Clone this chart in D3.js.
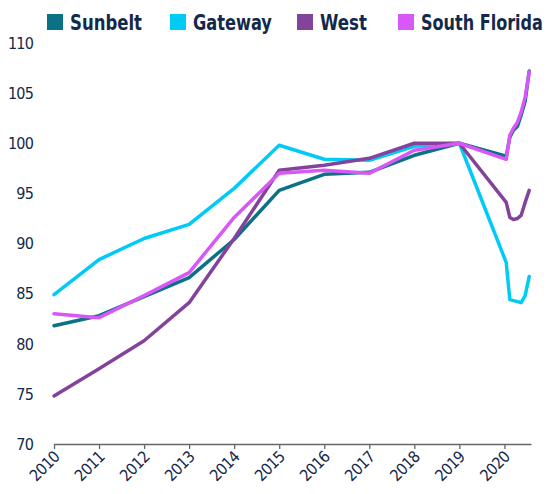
<!DOCTYPE html>
<html>
<head>
<meta charset="utf-8">
<script src="https://cdn.jsdelivr.net/npm/d3@7"></script>
<style>
  body { margin: 0; background: #fff; }
  text { font-family: "DejaVu Sans Condensed", "Liberation Sans Narrow", sans-serif; fill: #13294b; }
</style>
</head>
<body>
<script>
// annual points 2010-2019, then monthly-ish points in 2020
var years = [2010, 2011, 2012, 2013, 2014, 2015, 2016, 2017, 2018, 2019,
             2020.04, 2020.12, 2020.2, 2020.29, 2020.37, 2020.46, 2020.55];

var sunbelt      = [81.8, 82.8, 84.7, 86.6, 90.4, 95.3, 96.9, 97.1, 98.8, 100, 98.7, 100.6, 101.3, 101.7, 102.8, 104.2, 107.2];
var gateway      = [84.9, 88.4, 90.5, 91.9, 95.5, 99.8, 98.4, 98.3, 99.7, 100, 88.1, 84.4, 84.3, 84.2, 84.1, 84.8, 86.7];
var west         = [74.8, 77.5, 80.3, 84.1, 90.5, 97.3, 97.8, 98.5, 100, 100, 94.1, 92.6, 92.4, 92.5, 92.8, 94.1, 95.3];
var southFlorida = [83.0, 82.6, 84.8, 87.1, 92.6, 97.0, 97.3, 97.0, 99.3, 100, 98.4, 100.8, 101.5, 102.1, 103.1, 104.6, 107.1];

var seriesNames  = ['Sunbelt', 'Gateway', 'West', 'South Florida'];
var seriesValues = [sunbelt, gateway, west, southFlorida];
var colors       = ['#0b7285', '#00cbf5', '#84439a', '#d957f7'];

var xTicks = [2010, 2011, 2012, 2013, 2014, 2015, 2016, 2017, 2018, 2019, 2020];
var yTicks = [70, 75, 80, 85, 90, 95, 100, 105, 110];

var w = 551, h = 494;
var svg = d3.select('body').append('svg').attr('width', w).attr('height', h);

var x = d3.scaleLinear().domain([2010, 2020.59]).range([54, 531]);
var y = d3.scaleLinear().domain([70, 110]).range([444, 43]);

// y labels, no axis line
svg.append('g').selectAll('text')
  .data(yTicks)
  .enter().append('text')
  .attr('x', 33)
  .attr('y', function(d){ return y(d); })
  .attr('dy', '0.36em')
  .attr('text-anchor', 'end')
  .style('font-size', '16px')
  .style('letter-spacing', '-0.8px')
  .text(function(d){ return d; });

// x axis
var xAxis = svg.append('g')
  .attr('transform', 'translate(0,444)')
  .call(d3.axisBottom(x).tickValues(xTicks).tickSize(5).tickSizeOuter(0).tickFormat(d3.format('d')));
xAxis.select('.domain').attr('stroke', '#666').attr('stroke-width', 1.3);
xAxis.selectAll('.tick line').attr('stroke', '#666').attr('stroke-width', 1.3);
xAxis.selectAll('.tick text')
  .attr('text-anchor', 'end')
  .attr('x', 0).attr('y', 0).attr('dy', 0)
  .attr('transform', 'translate(6,14) rotate(-45)')
  .style('font-size', '16px')
  .style('letter-spacing', '-0.6px')
  .style('font-family', null)
  .attr('fill', null);

// lines
var line = d3.line()
  .x(function(d, i){ return x(years[i]); })
  .y(function(d){ return y(d); });

svg.append('g').selectAll('path')
  .data(seriesValues)
  .enter().append('path')
  .attr('d', line)
  .attr('fill', 'none')
  .attr('stroke', function(d, i){ return colors[i]; })
  .attr('stroke-width', 3.5)
  .attr('stroke-linejoin', 'round')
  .attr('stroke-linecap', 'round');

// legend - squeeze the bold text horizontally to look condensed
var legendX = [47, 170, 297, 398];
var legendW = [72, 79, 47, 122];
var legend = svg.append('g').selectAll('g')
  .data(seriesNames)
  .enter().append('g')
  .attr('transform', function(d, i){ return 'translate(' + legendX[i] + ',14)'; });
legend.append('rect')
  .attr('width', 16).attr('height', 16)
  .attr('fill', function(d, i){ return colors[i]; });
legend.append('text')
  .attr('x', 0).attr('y', 16)
  .style('font-size', '21px')
  .style('font-weight', 'bold')
  .text(function(d){ return d; })
  .attr('transform', function(d, i){
    var k = legendW[i] / this.getComputedTextLength();
    return 'translate(23,0) scale(' + k + ',1)';
  });
</script>
</body>
</html>
